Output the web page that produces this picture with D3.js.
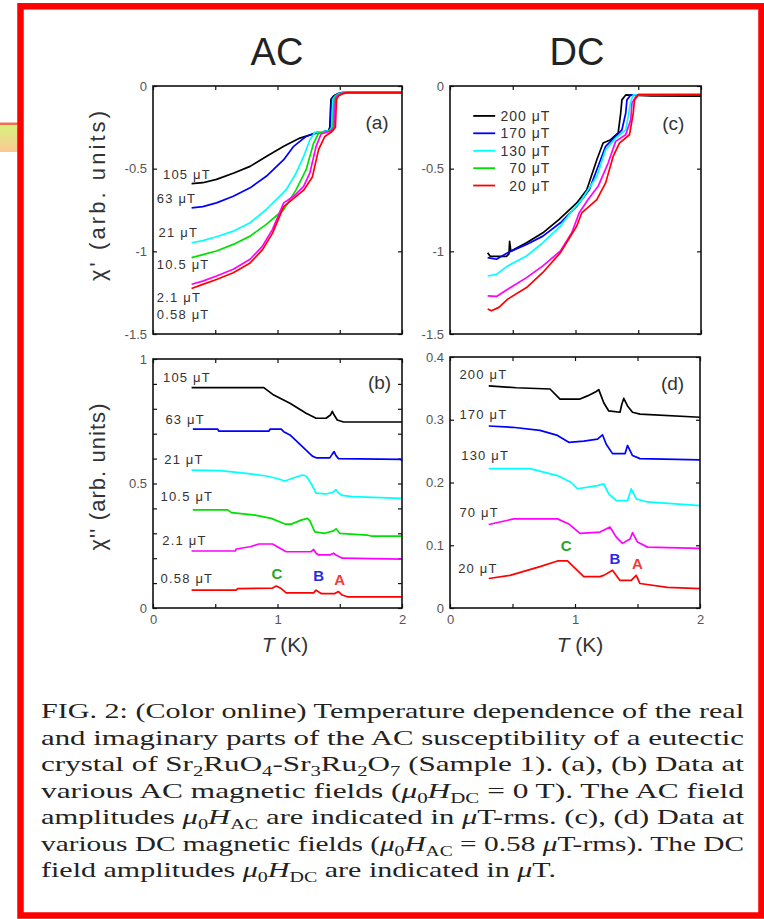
<!DOCTYPE html>
<html>
<head>
<meta charset="utf-8">
<script src="https://cdn.jsdelivr.net/npm/d3@7"></script>
<style>
  html, body { margin: 0; padding: 0; background: #fff; }
  svg { display: block; }
</style>
</head>
<body>
<svg id="fig" width="764" height="919"></svg>
<script>
/**
 * Data: [T (K), chi] pairs per curve.
 */
// (a) chi' at various AC fields
const acReal105 = [[0.31,-0.59],[0.4,-0.585],[0.51,-0.565],[0.65,-0.526],[0.78,-0.486],[0.91,-0.426],[1.05,-0.365],[1.18,-0.315],[1.31,-0.285],[1.36,-0.278],[1.41,-0.27],[1.42,-0.25],[1.425,-0.15],[1.43,-0.08],[1.45,-0.06],[1.48,-0.048],[1.52,-0.04],[2,-0.04]];
const acReal63 = [[0.31,-0.737],[0.4,-0.73],[0.51,-0.707],[0.645,-0.667],[0.78,-0.616],[0.91,-0.546],[1.05,-0.446],[1.13,-0.365],[1.23,-0.305],[1.31,-0.281],[1.36,-0.278],[1.41,-0.27],[1.425,-0.25],[1.43,-0.15],[1.435,-0.08],[1.455,-0.06],[1.485,-0.048],[1.52,-0.04],[2,-0.04]];
const acReal21 = [[0.31,-0.948],[0.4,-0.935],[0.51,-0.912],[0.645,-0.878],[0.78,-0.827],[0.91,-0.747],[0.99,-0.687],[1.07,-0.627],[1.15,-0.526],[1.21,-0.426],[1.26,-0.325],[1.3,-0.281],[1.38,-0.275],[1.42,-0.268],[1.435,-0.25],[1.44,-0.15],[1.445,-0.08],[1.465,-0.06],[1.49,-0.048],[1.53,-0.04],[2,-0.04]];
const acReal10 = [[0.31,-1.038],[0.4,-1.02],[0.51,-0.998],[0.645,-0.958],[0.78,-0.908],[0.91,-0.837],[1.05,-0.747],[1.15,-0.627],[1.23,-0.506],[1.29,-0.345],[1.33,-0.285],[1.4,-0.275],[1.43,-0.265],[1.445,-0.25],[1.45,-0.15],[1.455,-0.08],[1.47,-0.06],[1.5,-0.048],[1.54,-0.04],[2,-0.04]];
const acReal2 = [[0.31,-1.199],[0.4,-1.18],[0.51,-1.149],[0.645,-1.108],[0.78,-1.048],[0.88,-0.968],[0.96,-0.867],[1.05,-0.707],[1.13,-0.667],[1.21,-0.607],[1.26,-0.526],[1.31,-0.365],[1.35,-0.29],[1.42,-0.275],[1.445,-0.262],[1.455,-0.25],[1.46,-0.15],[1.465,-0.08],[1.48,-0.06],[1.51,-0.048],[1.55,-0.04],[2,-0.04]];
const acReal058 = [[0.31,-1.225],[0.4,-1.2],[0.51,-1.17],[0.645,-1.13],[0.78,-1.07],[0.88,-0.99],[0.96,-0.89],[1.05,-0.73],[1.13,-0.68],[1.21,-0.63],[1.28,-0.55],[1.33,-0.385],[1.38,-0.305],[1.43,-0.28],[1.45,-0.265],[1.465,-0.25],[1.47,-0.15],[1.475,-0.08],[1.49,-0.06],[1.52,-0.048],[1.56,-0.04],[2,-0.04]];

// (b) chi'' at various AC fields
const acImag105 = [[0.31,0.885],[0.89,0.885],[0.97,0.855],[1.1,0.822],[1.23,0.782],[1.31,0.762],[1.39,0.762],[1.425,0.775],[1.44,0.79],[1.455,0.775],[1.48,0.755],[1.53,0.747],[2,0.747]];
const acImag63 = [[0.32,0.718],[0.52,0.718],[0.53,0.71],[0.93,0.71],[0.94,0.718],[1.03,0.718],[1.05,0.708],[1.1,0.695],[1.2,0.648],[1.28,0.61],[1.31,0.603],[1.42,0.603],[1.44,0.618],[1.455,0.628],[1.47,0.612],[1.49,0.6],[1.99,0.597],[2,0.59]];
const acImag21 = [[0.31,0.554],[0.54,0.552],[0.75,0.541],[0.91,0.53],[0.99,0.521],[1.06,0.51],[1.12,0.521],[1.2,0.534],[1.23,0.53],[1.27,0.5],[1.31,0.461],[1.39,0.458],[1.45,0.466],[1.47,0.475],[1.49,0.462],[1.52,0.452],[1.6,0.447],[2,0.44]];
const acImag10 = [[0.32,0.394],[0.6,0.394],[0.63,0.383],[0.82,0.373],[0.95,0.36],[1.06,0.337],[1.11,0.337],[1.19,0.353],[1.24,0.36],[1.26,0.35],[1.3,0.306],[1.38,0.3],[1.45,0.31],[1.47,0.318],[1.5,0.3],[1.72,0.293],[1.75,0.289],[2,0.289]];
const acImag2 = [[0.31,0.229],[0.66,0.229],[0.67,0.237],[0.78,0.246],[0.85,0.257],[0.96,0.257],[1.02,0.24],[1.07,0.226],[1.27,0.226],[1.29,0.235],[1.31,0.22],[1.33,0.213],[1.42,0.213],[1.45,0.22],[1.47,0.213],[1.52,0.2],[2,0.196]];
const acImag058 = [[0.31,0.072],[0.67,0.072],[0.68,0.078],[0.96,0.08],[0.99,0.088],[1.03,0.078],[1.07,0.061],[1.29,0.061],[1.31,0.072],[1.35,0.058],[1.46,0.058],[1.49,0.066],[1.52,0.052],[1.56,0.045],[2,0.045]];

// (c) chi' at various DC fields
const dcReal200 = [[0.3,-1.008],[0.32,-1.03],[0.45,-1.03],[0.47,-1.015],[0.475,-0.94],[0.485,-1.0],[0.52,-0.985],[0.61,-0.948],[0.74,-0.888],[0.87,-0.807],[1.01,-0.707],[1.09,-0.627],[1.17,-0.446],[1.22,-0.345],[1.28,-0.325],[1.34,-0.283],[1.36,-0.165],[1.37,-0.084],[1.4,-0.054],[1.6,-0.06],[2,-0.062]];
const dcReal170 = [[0.3,-1.038],[0.37,-1.048],[0.46,-1.008],[0.61,-0.958],[0.74,-0.908],[0.88,-0.827],[1.01,-0.727],[1.11,-0.627],[1.19,-0.466],[1.24,-0.365],[1.32,-0.305],[1.37,-0.265],[1.4,-0.165],[1.41,-0.084],[1.44,-0.054],[2,-0.055]];
const dcReal130 = [[0.3,-1.149],[0.37,-1.139],[0.46,-1.088],[0.61,-1.028],[0.74,-0.948],[0.88,-0.847],[0.97,-0.757],[1.05,-0.687],[1.17,-0.546],[1.24,-0.386],[1.32,-0.315],[1.4,-0.265],[1.42,-0.185],[1.44,-0.095],[1.46,-0.054],[2,-0.05]];
const dcReal70 = [[0.3,-1.269],[0.37,-1.273],[0.46,-1.229],[0.61,-1.159],[0.74,-1.088],[0.88,-0.998],[0.97,-0.888],[1.03,-0.767],[1.1,-0.687],[1.18,-0.607],[1.26,-0.466],[1.32,-0.335],[1.4,-0.295],[1.44,-0.205],[1.45,-0.104],[1.48,-0.064],[1.5,-0.05],[2,-0.05]];
const dcReal20 = [[0.3,-1.349],[0.33,-1.36],[0.39,-1.339],[0.46,-1.289],[0.61,-1.219],[0.74,-1.128],[0.88,-1.008],[1.01,-0.847],[1.05,-0.767],[1.17,-0.687],[1.24,-0.586],[1.3,-0.426],[1.35,-0.345],[1.43,-0.295],[1.46,-0.165],[1.47,-0.084],[1.5,-0.054],[2,-0.054]];

// (d) chi'' at various DC fields
const dcImag200 = [[0.31,0.354],[0.53,0.351],[0.8,0.349],[0.88,0.333],[1.04,0.333],[1.1,0.338],[1.17,0.345],[1.19,0.348],[1.23,0.327],[1.27,0.314],[1.36,0.312],[1.375,0.325],[1.39,0.334],[1.42,0.322],[1.46,0.312],[1.52,0.309],[2,0.304]];
const dcImag170 = [[0.31,0.29],[0.5,0.288],[0.72,0.283],[0.86,0.275],[0.95,0.264],[1.07,0.266],[1.18,0.269],[1.22,0.276],[1.25,0.261],[1.3,0.246],[1.4,0.246],[1.42,0.259],[1.46,0.243],[1.52,0.238],[2,0.236]];
const dcImag130 = [[0.31,0.222],[0.64,0.222],[0.86,0.211],[0.97,0.2],[1.02,0.19],[1.18,0.195],[1.23,0.198],[1.27,0.182],[1.33,0.171],[1.42,0.171],[1.45,0.19],[1.49,0.174],[1.58,0.169],[2,0.163]];
const dcImag70 = [[0.31,0.133],[0.4,0.137],[0.51,0.142],[0.86,0.142],[0.95,0.134],[1.04,0.119],[1.2,0.121],[1.28,0.129],[1.33,0.113],[1.38,0.103],[1.44,0.11],[1.46,0.12],[1.5,0.105],[1.58,0.097],[2,0.095]];
const dcImag20 = [[0.31,0.047],[0.48,0.052],[0.72,0.066],[0.86,0.075],[0.94,0.075],[1.07,0.05],[1.2,0.05],[1.23,0.052],[1.3,0.06],[1.36,0.044],[1.45,0.044],[1.49,0.052],[1.52,0.039],[1.74,0.033],[2,0.031]];

/**
 * Labels and ticks.
 */
const acFields = ['105 μT', '63 μT', '21 μT', '10.5 μT', '2.1 μT', '0.58 μT'];
const dcFields = ['200 μT', '170 μT', '130 μT', '70 μT', '20 μT'];
const tTicks = [0, 0.5, 1, 1.5, 2];
const tLabels = [0, 1, 2];
const realTicks = [0, -0.5, -1, -1.5];
const acImagTicks = [0, 0.1, 0.2, 0.3, 0.4, 0.5, 0.6, 0.7, 0.8, 0.9, 1];
const acImagLabels = [0, 0.5, 1];
const dcImagTicks = [0, 0.1, 0.2, 0.3, 0.4];

/**
 * Visual configs.
 */
const acColors = ['#000000', '#0000ff', '#00ffff', '#00e000', '#ff00ff', '#ff0000'];
const dcColors = ['#000000', '#0000ff', '#00ffff', '#ff00ff', '#ff0000'];
const legendColors = ['#000000', '#0000ff', '#00ffff', '#00e000', '#ff0000'];
const sans = 'Liberation Sans, Arial, Helvetica, sans-serif';

const svg = d3.select('#fig');

// Stray tab peeking out on the left edge
const grad = svg.append('defs').append('linearGradient')
    .attr('id', 'tab').attr('x1', 0).attr('y1', 0).attr('x2', 0).attr('y2', 1);
grad.append('stop').attr('offset', '0%').attr('stop-color', '#d6f47a');
grad.append('stop').attr('offset', '100%').attr('stop-color', '#fcc796');
svg.append('rect').attr('x', 0).attr('y', 124.5).attr('width', 18).attr('height', 27.5).attr('fill', 'url(#tab)');
svg.append('rect').attr('x', 0).attr('y', 122.5).attr('width', 18).attr('height', 2.5).attr('fill', '#f07050');

// Red frame
svg.append('rect')
    .attr('x', 20.5).attr('y', 6.3).attr('width', 741).attr('height', 909.2)
    .attr('fill', 'none').attr('stroke', '#ff0000').attr('stroke-width', 6.5);

// Column titles
svg.append('text').attr('x', 277).attr('y', 65).attr('text-anchor', 'middle')
    .attr('font-family', sans).attr('font-size', 38).attr('fill', '#222').text('AC');
svg.append('text').attr('x', 577).attr('y', 65).attr('text-anchor', 'middle')
    .attr('font-family', sans).attr('font-size', 38).attr('fill', '#222').text('DC');

/**
 * Draws one panel.
 */
function panel(o) {
    const x = d3.scaleLinear().domain([0, 2]).range([o.left, o.right]);
    const y = d3.scaleLinear().domain(o.yDomain).range([o.bottom, o.top]);
    const g = svg.append('g');

    const fmtX = o.xLabels ? (d => tLabels.includes(d) ? String(d) : '') : '';
    const fmtY = d => o.yLabels.includes(d) ? String(d) : '';

    const axes = [
        g.append('g').attr('transform', `translate(0,${o.bottom})`)
            .call(d3.axisBottom(x).tickValues(tTicks).tickSize(-4).tickSizeOuter(0).tickPadding(7).tickFormat(fmtX)),
        g.append('g').attr('transform', `translate(0,${o.top})`)
            .call(d3.axisTop(x).tickValues(tTicks).tickSize(-4).tickSizeOuter(0).tickFormat('')),
        g.append('g').attr('transform', `translate(${o.left},0)`)
            .call(d3.axisLeft(y).tickValues(o.yTicks).tickSize(-4).tickSizeOuter(0).tickPadding(6).tickFormat(fmtY)),
        g.append('g').attr('transform', `translate(${o.right},0)`)
            .call(d3.axisRight(y).tickValues(o.yTicks).tickSize(-4).tickSizeOuter(0).tickFormat(''))
    ];
    axes.forEach(a => {
        a.select('.domain').remove();
        a.selectAll('.tick line').attr('stroke', '#111').attr('stroke-width', 1.2);
        a.selectAll('.tick text').attr('font-family', sans).attr('font-size', 13).attr('fill', '#555');
    });

    // Curves
    const line = d3.line().x(d => x(d[0])).y(d => y(d[1]));
    g.append('g').selectAll('path').data(o.series).join('path')
        .attr('d', line)
        .attr('fill', 'none')
        .attr('stroke', (d, i) => o.colors[i])
        .attr('stroke-width', 1.7)
        .attr('stroke-linejoin', 'round');

    // Frame
    g.append('rect')
        .attr('x', o.left).attr('y', o.top)
        .attr('width', o.right - o.left).attr('height', o.bottom - o.top)
        .attr('fill', 'none').attr('stroke', '#111').attr('stroke-width', 1.6);

    // Field labels beside the curves
    if (o.fieldLabels) {
        g.append('g').selectAll('text').data(o.fieldLabels).join('text')
            .attr('x', (d, i) => x(o.labelAt[i][0]))
            .attr('y', (d, i) => y(o.labelAt[i][1]))
            .attr('dy', '0.36em')
            .attr('font-family', sans).attr('font-size', 13)
            .attr('letter-spacing', 1.2).attr('fill', '#333')
            .text(d => d);
    }

    // Peak markers C, B, A
    if (o.peaks) {
        g.append('g').selectAll('text').data(o.peaks).join('text')
            .attr('x', d => x(d.t)).attr('y', d => y(d.v))
            .attr('dy', '0.36em').attr('text-anchor', 'middle')
            .attr('font-family', sans).attr('font-size', 15).attr('font-weight', 'bold')
            .attr('fill', d => d.color).text(d => d.name);
    }

    // Panel tag
    g.append('text')
        .attr('x', x(o.tag[1])).attr('y', y(o.tag[2])).attr('dy', '0.36em')
        .attr('text-anchor', 'middle')
        .attr('font-family', sans).attr('font-size', 19).attr('fill', '#333')
        .text(o.tag[0]);

    return { x, y, g };
}

const pa = panel({
    left: 153, right: 402, top: 86, bottom: 334,
    yDomain: [-1.5, 0], yTicks: realTicks, yLabels: realTicks, xLabels: false,
    series: [acReal105, acReal63, acReal21, acReal10, acReal2, acReal058], colors: acColors,
    fieldLabels: acFields,
    labelAt: [[0.08,-0.536],[0.03,-0.68],[0.045,-0.884],[0.03,-1.078],[0.03,-1.28],[0.03,-1.38]],
    tag: ['(a)', 1.8, -0.22]
});

const pc = panel({
    left: 450, right: 701, top: 86, bottom: 334,
    yDomain: [-1.5, 0], yTicks: realTicks, yLabels: realTicks, xLabels: false,
    series: [dcReal200, dcReal170, dcReal130, dcReal70, dcReal20], colors: dcColors,
    tag: ['(c)', 1.78, -0.225]
});

// Legend of panel (c)
const legendRows = [-0.181, -0.286, -0.392, -0.497, -0.602];
const leg = pc.g.append('g').selectAll('g').data(dcFields).join('g');
leg.append('line')
    .attr('x1', pc.x(0.185)).attr('x2', pc.x(0.36))
    .attr('y1', (d, i) => pc.y(legendRows[i])).attr('y2', (d, i) => pc.y(legendRows[i]))
    .attr('stroke', (d, i) => legendColors[i]).attr('stroke-width', 1.8);
leg.append('text')
    .attr('x', pc.x(0.8)).attr('y', (d, i) => pc.y(legendRows[i])).attr('dy', '0.36em')
    .attr('text-anchor', 'end')
    .attr('font-family', sans).attr('font-size', 14).attr('letter-spacing', 1).attr('fill', '#333')
    .text(d => d);

panel({
    left: 153, right: 402, top: 359, bottom: 608,
    yDomain: [0, 1], yTicks: acImagTicks, yLabels: acImagLabels, xLabels: true,
    series: [acImag105, acImag63, acImag21, acImag10, acImag2, acImag058], colors: acColors,
    fieldLabels: acFields,
    labelAt: [[0.08,0.928],[0.1,0.758],[0.09,0.598],[0.06,0.447],[0.075,0.272],[0.06,0.12]],
    peaks: [
        { name: 'C', t: 0.995, v: 0.14, color: '#2aa52a' },
        { name: 'B', t: 1.33, v: 0.132, color: '#2a2ae6' },
        { name: 'A', t: 1.5, v: 0.115, color: '#f03a3a' }
    ],
    tag: ['(b)', 1.82, 0.905]
});

panel({
    left: 450, right: 700, top: 357, bottom: 608,
    yDomain: [0, 0.4], yTicks: dcImagTicks, yLabels: dcImagTicks, xLabels: true,
    series: [dcImag200, dcImag170, dcImag130, dcImag70, dcImag20], colors: dcColors,
    fieldLabels: dcFields,
    labelAt: [[0.075,0.372],[0.075,0.308],[0.09,0.243],[0.075,0.153],[0.065,0.064]],
    peaks: [
        { name: 'C', t: 0.93, v: 0.1, color: '#2aa52a' },
        { name: 'B', t: 1.32, v: 0.079, color: '#2a2ae6' },
        { name: 'A', t: 1.5, v: 0.071, color: '#f03a3a' }
    ],
    tag: ['(d)', 1.78, 0.358]
});

// Axis titles
function yTitle(cx, cy, len, prime) {
    svg.append('text')
        .attr('transform', `translate(${cx},${cy}) rotate(-90)`)
        .attr('text-anchor', 'middle').attr('dy', '0.35em')
        .attr('font-family', sans).attr('font-size', 22).attr('fill', '#333')
        .attr('textLength', len).attr('lengthAdjust', 'spacing')
        .text('χ' + prime + ' (arb. units)');
}
yTitle(97, 196, 170, "'");
yTitle(97, 477, 147, "''");

function xTitle(cx) {
    const t = svg.append('text').attr('x', cx).attr('y', 652).attr('text-anchor', 'middle')
        .attr('font-family', sans).attr('font-size', 21).attr('fill', '#333');
    t.append('tspan').attr('font-style', 'italic').text('T');
    t.append('tspan').text(' (K)');
}
xTitle(285);
xTitle(580);

/**
 * Caption.
 */
const captionLines = [
    [['FIG. 2:  (Color online) Temperature dependence of the real']],
    [['and imaginary parts of the AC susceptibility of a eutectic']],
    [['crystal of Sr'], ['2', 'sub'], ['RuO'], ['4', 'sub'], ['-Sr'], ['3', 'sub'], ['Ru'], ['2', 'sub'], ['O'], ['7', 'sub'], [' (Sample 1).  (a), (b) Data at']],
    [['various AC magnetic fields ('], ['μ', 'i'], ['0', 'sub'], ['H', 'i'], ['DC', 'sub'], [' = 0 T). The AC field']],
    [['amplitudes '], ['μ', 'i'], ['0', 'sub'], ['H', 'i'], ['AC', 'sub'], [' are indicated in '], ['μ', 'i'], ['T-rms.  (c), (d) Data at']],
    [['various DC magnetic fields ('], ['μ', 'i'], ['0', 'sub'], ['H', 'i'], ['AC', 'sub'], [' = 0.58 '], ['μ', 'i'], ['T-rms). The DC']],
    [['field amplitudes '], ['μ', 'i'], ['0', 'sub'], ['H', 'i'], ['DC', 'sub'], [' are indicated in '], ['μ', 'i'], ['T.']]
];
const captionWidths = [703, 703, 703, 703, 703, 703, 515];

captionLines.forEach((segs, i) => {
    const t = svg.append('text')
        .attr('x', 41).attr('y', 718 + i * 26.5)
        .attr('font-family', 'Liberation Serif, Times New Roman, serif')
        .attr('font-size', 21).attr('fill', '#222')
        .attr('textLength', captionWidths[i]).attr('lengthAdjust', 'spacingAndGlyphs');
    let shift = 0;
    segs.forEach(([s, style]) => {
        const sp = t.append('tspan').text(s);
        const target = style === 'sub' ? 5 : 0;
        if (target !== shift) { sp.attr('dy', target - shift); shift = target; }
        if (style === 'sub') sp.attr('font-size', 14);
        if (style === 'i') sp.attr('font-style', 'italic');
    });
});
</script>
</body>
</html>
